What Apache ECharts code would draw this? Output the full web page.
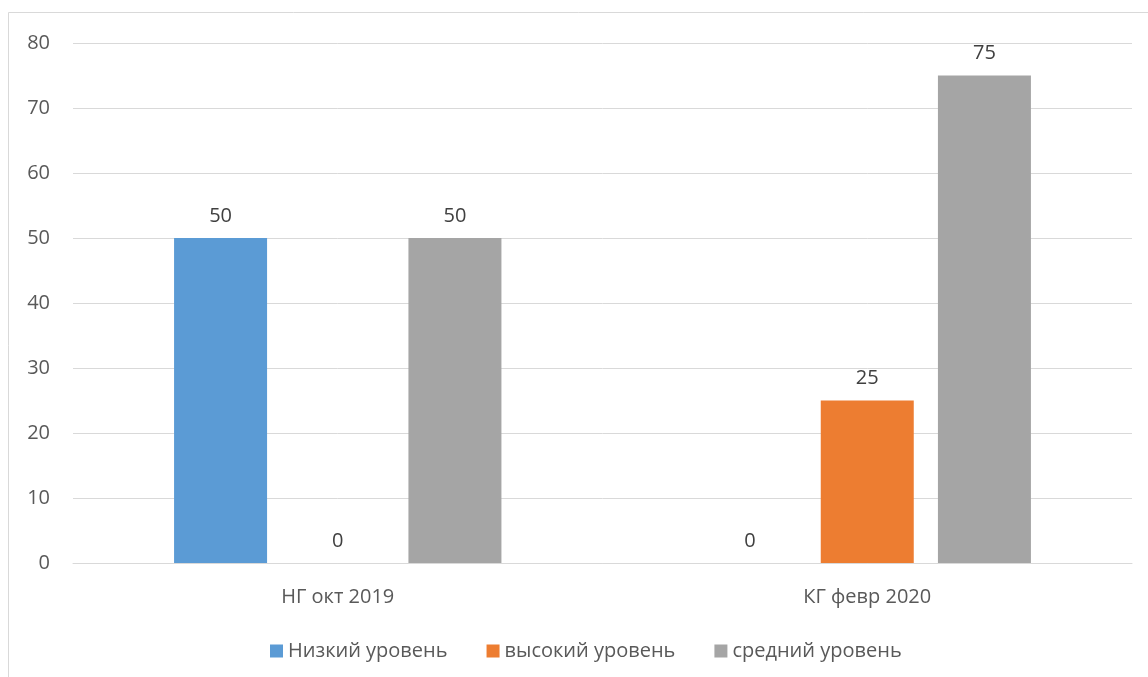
<!DOCTYPE html>
<html>
<head>
<meta charset="utf-8">
<script src="https://cdn.jsdelivr.net/npm/echarts@6/dist/echarts.min.js"></script>
<style>
html,body{margin:0;padding:0;background:#fff;}
#chart{width:1148px;height:677px;}
</style>
</head>
<body>
<div id="chart"></div>
<script>
var categories = ['НГ окт 2019', 'КГ февр 2020'];
var seriesNames = ['Низкий уровень', 'высокий уровень', 'средний уровень'];
var lowValues = [50, 0];
var highValues = [0, 25];
var midValues = [50, 75];
var colors = ['#5B9BD5', '#ED7D31', '#A5A5A5'];

var FONT = 'Open Sans';
var FS = 20;
var chart = echarts.init(document.getElementById('chart'), null, {renderer: 'canvas'});

function makeSeries(name, data, color) {
  return {
    name: name,
    type: 'bar',
    data: data,
    barWidth: 93,
    barGap: '26%',
    itemStyle: {color: color},
    label: {
      show: true,
      position: 'top',
      distance: 12,
      color: '#404040',
      fontFamily: FONT,
      fontSize: FS
    },
    emphasis: {disabled: true}
  };
}

chart.setOption({
  animation: false,
  backgroundColor: '#fff',
  graphic: [{
    type: 'rect',
    shape: {x: 8.5, y: 12.5, width: 1300, height: 800},
    style: {fill: 'none', stroke: '#d9d9d9', lineWidth: 1},
    silent: true
  }],
  grid: {left: 73, right: 16, top: 43, bottom: 114, containLabel: false},
  legend: {
    data: seriesNames,
    left: 265,
    top: 636,
    itemWidth: 13,
    itemHeight: 13,
    itemGap: 39,
    icon: 'rect',
    textStyle: {color: '#595959', fontFamily: FONT, fontSize: FS, padding: [0, 0, 0, 0]}
  },
  xAxis: {
    type: 'category',
    data: categories,
    axisLine: {show: true, lineStyle: {color: '#d9d9d9', width: 1}},
    axisTick: {show: false},
    axisLabel: {color: '#595959', fontFamily: FONT, fontSize: FS, margin: 24}
  },
  yAxis: {
    type: 'value',
    min: 0,
    max: 80,
    interval: 10,
    axisLine: {show: false},
    axisTick: {show: false},
    splitLine: {lineStyle: {color: '#d9d9d9', width: 1}},
    axisLabel: {color: '#595959', fontFamily: FONT, fontSize: FS, margin: 23}
  },
  series: [
    makeSeries(seriesNames[0], lowValues, colors[0]),
    makeSeries(seriesNames[1], highValues, colors[1]),
    makeSeries(seriesNames[2], midValues, colors[2])
  ]
});
</script>
</body>
</html>
